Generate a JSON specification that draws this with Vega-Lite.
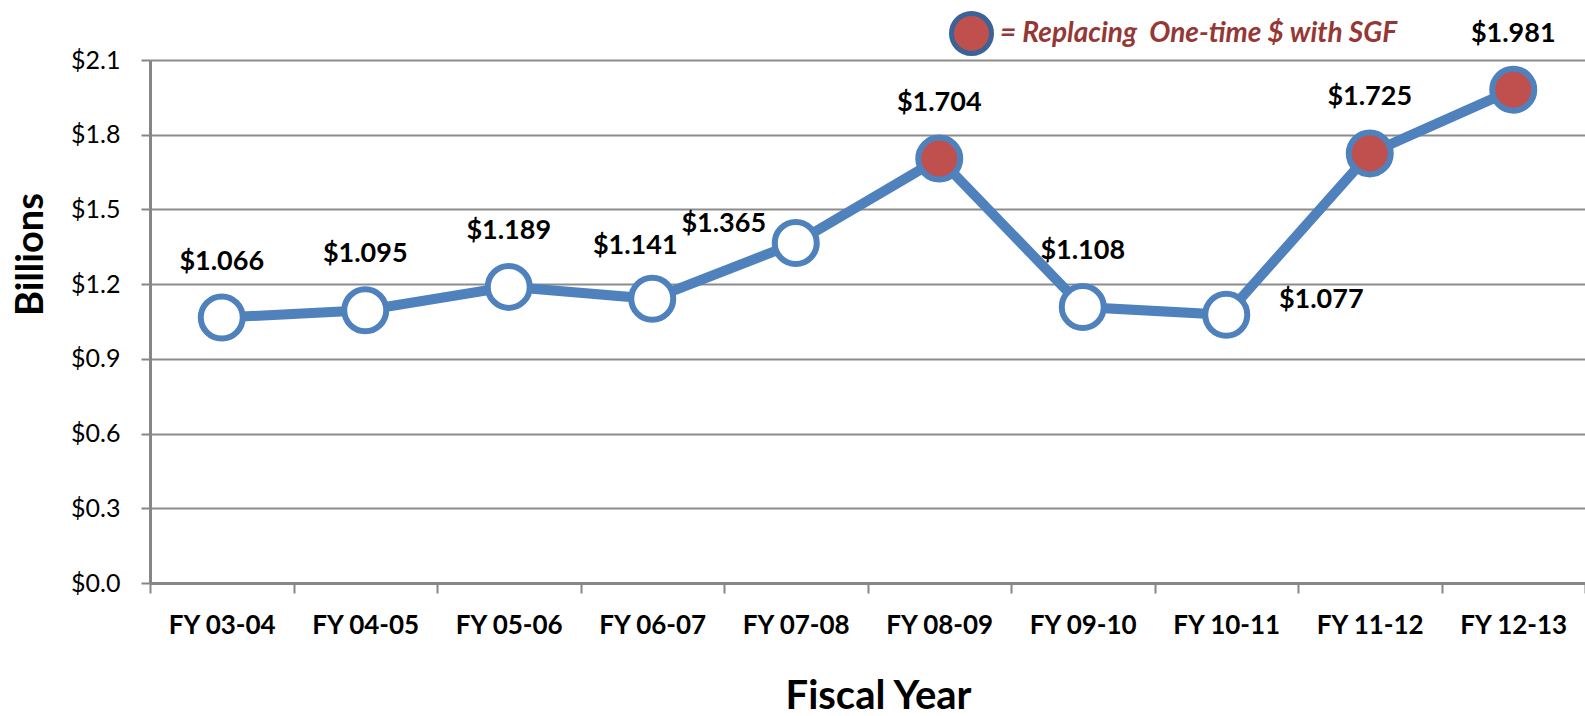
{
  "$schema": "https://vega.github.io/schema/vega-lite/v6.json",
  "width": 1435,
  "height": 523,
  "autosize": {"type": "none"},
  "padding": {"left": 150, "top": 60, "right": 0, "bottom": 133},
  "background": "white",
  "config": {"view": {"stroke": null}, "font": "Lato"},
  "data": {
    "values": [
      {"year": "FY 03-04", "value": 1.066, "source": "Regular"},
      {"year": "FY 04-05", "value": 1.095, "source": "Regular"},
      {"year": "FY 05-06", "value": 1.189, "source": "Regular"},
      {"year": "FY 06-07", "value": 1.141, "source": "Regular"},
      {"year": "FY 07-08", "value": 1.365, "source": "Regular"},
      {"year": "FY 08-09", "value": 1.704, "source": "SGF"},
      {"year": "FY 09-10", "value": 1.108, "source": "Regular"},
      {"year": "FY 10-11", "value": 1.077, "source": "Regular"},
      {"year": "FY 11-12", "value": 1.725, "source": "SGF"},
      {"year": "FY 12-13", "value": 1.981, "source": "SGF"}
    ]
  },
  "encoding": {
    "x": {
      "field": "year",
      "type": "ordinal",
      "sort": null,
      "scale": {"type": "band", "paddingInner": 0, "paddingOuter": 0},
      "axis": {
        "tickBand": "extent",
        "labelAngle": 0,
        "grid": false,
        "title": "Fiscal Year",
        "titleFont": "Lato",
        "titleFontSize": 40,
        "titleFontWeight": "bold",
        "titleColor": "black",
        "titleX": 728,
        "titleY": 125,
        "titleAlign": "center",
        "titleBaseline": "alphabetic",
        "labelFont": "Lato",
        "labelFontSize": 26,
        "labelFontWeight": "bold",
        "labelColor": "black",
        "labelBaseline": "alphabetic",
        "labelPadding": 40,
        "domainColor": "#868686",
        "domainWidth": 3,
        "tickColor": "#868686",
        "tickWidth": 2,
        "tickSize": 10
      }
    },
    "y": {
      "field": "value",
      "type": "quantitative",
      "scale": {"domain": [0, 2.1], "nice": false, "zero": true},
      "axis": {
        "values": [0, 0.3, 0.6, 0.9, 1.2, 1.5, 1.8, 2.1],
        "format": "$.1f",
        "grid": true,
        "gridColor": "#8C8C8C",
        "gridWidth": 2,
        "domainColor": "#868686",
        "domainWidth": 3,
        "tickColor": "#868686",
        "tickWidth": 2,
        "tickSize": 9,
        "labelFont": "Lato",
        "labelFontSize": 25,
        "labelColor": "black",
        "labelPadding": 21,
        "title": "Billions",
        "titleFont": "Lato",
        "titleFontSize": 38,
        "titleFontWeight": "bold",
        "titleColor": "black",
        "titleAngle": -90,
        "titleX": -108,
        "titleY": 194,
        "titleAlign": "center",
        "titleBaseline": "alphabetic"
      }
    }
  },
  "layer": [
    {"mark": {"type": "line", "color": "#4F81BD", "strokeWidth": 10}},
    {
      "mark": {"type": "point", "filled": true, "shape": "circle", "size": 1764, "stroke": "#4F81BD", "strokeWidth": 6, "opacity": 1},
      "encoding": {
        "fill": {
          "field": "source",
          "type": "nominal",
          "scale": {"domain": ["Regular", "SGF"], "range": ["white", "#C0504D"]},
          "legend": {
            "values": ["SGF"],
            "orient": "none",
            "legendX": 799,
            "legendY": -49,
            "title": null,
            "labelExpr": "'= Replacing\u00a0 One-time $ with SGF'",
            "labelFont": "Lato",
            "labelFontSize": 28,
            "labelFontStyle": "italic",
            "labelFontWeight": "bold",
            "labelColor": "#953735",
            "labelLimit": 0,
            "labelOffset": 6,
            "symbolType": "circle",
            "symbolSize": 1600,
            "symbolStrokeWidth": 5,
            "symbolStrokeColor": "#3B6397",
            "symbolOpacity": 1,
            "encode": {"symbols": {"update": {"fill": {"value": "#953735"}, "stroke": {"value": "#3B6397"}, "strokeWidth": {"value": 5}}}}
          }
        }
      }
    },
    {
      "transform": [{"filter": "datum.year != 'FY 06-07' && datum.year != 'FY 07-08' && datum.year != 'FY 10-11'"}],
      "mark": {"type": "text", "font": "Lato", "fontSize": 27, "fontWeight": "bold", "color": "black", "baseline": "middle", "dy": -56},
      "encoding": {"text": {"field": "value", "type": "quantitative", "format": "$.3f"}}
    },
    {
      "transform": [{"filter": "datum.year == 'FY 06-07'"}],
      "mark": {"type": "text", "font": "Lato", "fontSize": 27, "fontWeight": "bold", "color": "black", "baseline": "middle", "dx": -17, "dy": -53},
      "encoding": {"text": {"field": "value", "type": "quantitative", "format": "$.3f"}}
    },
    {
      "transform": [{"filter": "datum.year == 'FY 07-08'"}],
      "mark": {"type": "text", "font": "Lato", "fontSize": 27, "fontWeight": "bold", "color": "black", "baseline": "middle", "dx": -72, "dy": -19},
      "encoding": {"text": {"field": "value", "type": "quantitative", "format": "$.3f"}}
    },
    {
      "transform": [{"filter": "datum.year == 'FY 10-11'"}],
      "mark": {"type": "text", "font": "Lato", "fontSize": 27, "fontWeight": "bold", "color": "black", "baseline": "middle", "dx": 95, "dy": -15},
      "encoding": {"text": {"field": "value", "type": "quantitative", "format": "$.3f"}}
    }
  ]
}
